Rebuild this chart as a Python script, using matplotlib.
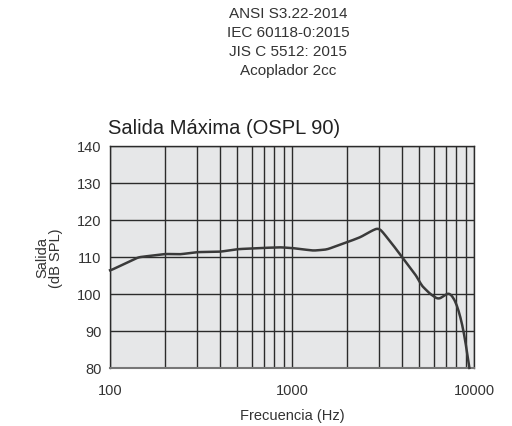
import numpy as np
import matplotlib.pyplot as plt
from matplotlib.ticker import FixedLocator, NullFormatter

# Curve
freq = [100, 143, 201, 242, 302, 402, 503, 667, 860, 1000, 1309, 1550, 2013, 2365,
        2800, 2985, 3100, 3600, 4010, 4940, 5050, 5730, 6370, 7080, 7380, 8030, 8740, 9420]
ospl = [106.3, 109.9, 110.8, 110.7, 111.3, 111.4, 112.1, 112.4, 112.6, 112.4, 111.7, 112.0,
        114.0, 115.3, 117.3, 117.8, 117.1, 113.1, 110.0, 104.1, 102.7, 100.0, 98.5, 100.0,
        100.3, 97.3, 90.5, 80.0]

x_ticks = [100, 1000, 10000]
x_labels = ["100", "1000", "10000"]
y_ticks = [80, 90, 100, 110, 120, 130, 140]

header = "ANSI S3.22-2014\nIEC 60118-0:2015\nJIS C 5512: 2015\nAcoplador 2cc"

plt.rcParams['font.family'] = ['Liberation Sans', 'DejaVu Sans']
txt = '#333333'
gridc = '#2b2b2b'

fig = plt.figure(figsize=(5.12, 4.27), dpi=100)
ax = fig.add_axes([0.215, 0.136, 0.711, 0.520])
ax.set_facecolor('#e6e7e8')

# light smoothing in log-x space
lx = np.log10(freq)
xs = np.linspace(lx[0], lx[-1], 400)
ys = np.interp(xs, lx, ospl)
k = 3
ys_s = np.convolve(np.pad(ys, k, mode='edge'), np.ones(2 * k + 1) / (2 * k + 1), mode='same')[k:-k]
ys_s[-k:] = ys[-k:]
ax.plot(10 ** xs, ys_s, color='#3a3a3a', lw=1.8, zorder=3, clip_on=False)

ax.set_xscale('log')
ax.set_xlim(100, 10000)
ax.set_ylim(80, 140)
ax.set_xticks(x_ticks)
ax.set_xticklabels(x_labels)
minors = [m * d for d in (100, 1000) for m in range(2, 10)]
ax.xaxis.set_minor_locator(FixedLocator(minors))
ax.xaxis.set_minor_formatter(NullFormatter())
ax.set_yticks(y_ticks)
ax.grid(True, which='both', color=gridc, lw=1.0)
ax.tick_params(which='both', length=0, labelsize=10.5, colors=txt, pad=6)
ax.tick_params(axis='x', pad=11)
for s in ax.spines.values():
    s.set_color(gridc)
    s.set_linewidth(1.0)
ax.spines['bottom'].set_color('#777777')
ax.spines['bottom'].set_linewidth(1.5)

ax.set_xlabel("Frecuencia (Hz)", fontsize=10.5, color=txt, labelpad=8)
ax.set_ylabel("Salida\n(dB SPL)", fontsize=10.5, color=txt, labelpad=10, linespacing=1.0)

fig.text(0.211, 0.700, "Salida Máxima (OSPL 90)", fontsize=14.5, color='#222222',
         ha='left', va='center')
fig.text(0.563, 0.983, header, fontsize=11, color=txt, ha='center', va='top',
         linespacing=1.45)

fig.savefig('out.png', dpi=100)
